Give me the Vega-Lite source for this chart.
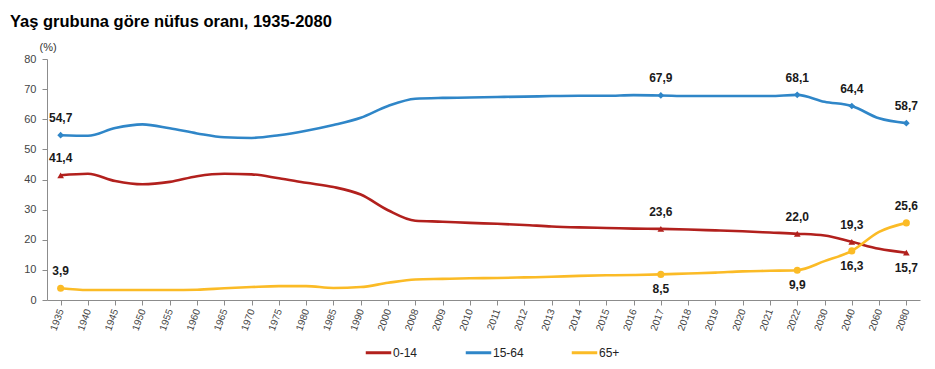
{
  "$schema": "https://vega.github.io/schema/vega-lite/v6.json",
  "autosize": {"type": "none"},
  "width": 873,
  "height": 241,
  "padding": {"left": 47, "top": 59, "right": 15, "bottom": 69},
  "background": "white",
  "title": {
    "text": "Yaş grubuna göre nüfus oranı, 1935-2080",
    "anchor": "start",
    "frame": "group",
    "dx": -37,
    "offset": 11,
    "fontSize": 16.5,
    "fontWeight": "bold",
    "color": "#000000",
    "font": "Liberation Sans"
  },
  "config": {
    "font": "Liberation Sans",
    "locale": {"number": {"decimal": ",", "thousands": ".", "grouping": [3], "currency": ["", " TL"]}},
    "view": {"stroke": null}
  },
  "data": {
    "values": [
      {"year": "1935", "group": "0-14", "value": 41.4},
      {"year": "1940", "group": "0-14", "value": 41.9},
      {"year": "1945", "group": "0-14", "value": 39.5},
      {"year": "1950", "group": "0-14", "value": 38.4},
      {"year": "1955", "group": "0-14", "value": 39.2},
      {"year": "1960", "group": "0-14", "value": 41.1},
      {"year": "1965", "group": "0-14", "value": 41.9},
      {"year": "1970", "group": "0-14", "value": 41.7},
      {"year": "1975", "group": "0-14", "value": 40.4},
      {"year": "1980", "group": "0-14", "value": 38.9},
      {"year": "1985", "group": "0-14", "value": 37.5},
      {"year": "1990", "group": "0-14", "value": 35.0},
      {"year": "2000", "group": "0-14", "value": 29.8},
      {"year": "2008", "group": "0-14", "value": 26.3},
      {"year": "2009", "group": "0-14", "value": 26.0},
      {"year": "2010", "group": "0-14", "value": 25.6},
      {"year": "2011", "group": "0-14", "value": 25.3},
      {"year": "2012", "group": "0-14", "value": 24.9},
      {"year": "2013", "group": "0-14", "value": 24.4},
      {"year": "2014", "group": "0-14", "value": 24.1},
      {"year": "2015", "group": "0-14", "value": 23.9},
      {"year": "2016", "group": "0-14", "value": 23.7},
      {"year": "2017", "group": "0-14", "value": 23.6},
      {"year": "2018", "group": "0-14", "value": 23.4},
      {"year": "2019", "group": "0-14", "value": 23.1},
      {"year": "2020", "group": "0-14", "value": 22.8},
      {"year": "2021", "group": "0-14", "value": 22.4},
      {"year": "2022", "group": "0-14", "value": 22.0},
      {"year": "2030", "group": "0-14", "value": 21.4},
      {"year": "2040", "group": "0-14", "value": 19.3},
      {"year": "2060", "group": "0-14", "value": 17.0},
      {"year": "2080", "group": "0-14", "value": 15.7},
      {"year": "1935", "group": "15-64", "value": 54.7},
      {"year": "1940", "group": "15-64", "value": 54.5},
      {"year": "1945", "group": "15-64", "value": 57.1},
      {"year": "1950", "group": "15-64", "value": 58.3},
      {"year": "1955", "group": "15-64", "value": 57.0},
      {"year": "1960", "group": "15-64", "value": 55.3},
      {"year": "1965", "group": "15-64", "value": 54.0},
      {"year": "1970", "group": "15-64", "value": 53.8},
      {"year": "1975", "group": "15-64", "value": 54.7},
      {"year": "1980", "group": "15-64", "value": 56.2},
      {"year": "1985", "group": "15-64", "value": 58.1},
      {"year": "1990", "group": "15-64", "value": 60.5},
      {"year": "2000", "group": "15-64", "value": 64.4},
      {"year": "2008", "group": "15-64", "value": 66.8},
      {"year": "2009", "group": "15-64", "value": 67.1},
      {"year": "2010", "group": "15-64", "value": 67.2},
      {"year": "2011", "group": "15-64", "value": 67.4},
      {"year": "2012", "group": "15-64", "value": 67.5},
      {"year": "2013", "group": "15-64", "value": 67.7},
      {"year": "2014", "group": "15-64", "value": 67.8},
      {"year": "2015", "group": "15-64", "value": 67.8},
      {"year": "2016", "group": "15-64", "value": 68.0},
      {"year": "2017", "group": "15-64", "value": 67.9},
      {"year": "2018", "group": "15-64", "value": 67.7},
      {"year": "2019", "group": "15-64", "value": 67.7},
      {"year": "2020", "group": "15-64", "value": 67.7},
      {"year": "2021", "group": "15-64", "value": 67.7},
      {"year": "2022", "group": "15-64", "value": 68.1},
      {"year": "2030", "group": "15-64", "value": 65.8},
      {"year": "2040", "group": "15-64", "value": 64.4},
      {"year": "2060", "group": "15-64", "value": 60.3},
      {"year": "2080", "group": "15-64", "value": 58.7},
      {"year": "1935", "group": "65+", "value": 3.9},
      {"year": "1940", "group": "65+", "value": 3.3},
      {"year": "1945", "group": "65+", "value": 3.3},
      {"year": "1950", "group": "65+", "value": 3.3},
      {"year": "1955", "group": "65+", "value": 3.3},
      {"year": "1960", "group": "65+", "value": 3.4},
      {"year": "1965", "group": "65+", "value": 3.9},
      {"year": "1970", "group": "65+", "value": 4.3},
      {"year": "1975", "group": "65+", "value": 4.6},
      {"year": "1980", "group": "65+", "value": 4.6},
      {"year": "1985", "group": "65+", "value": 4.0},
      {"year": "1990", "group": "65+", "value": 4.3},
      {"year": "2000", "group": "65+", "value": 5.7},
      {"year": "2008", "group": "65+", "value": 6.8},
      {"year": "2009", "group": "65+", "value": 7.0},
      {"year": "2010", "group": "65+", "value": 7.2},
      {"year": "2011", "group": "65+", "value": 7.3},
      {"year": "2012", "group": "65+", "value": 7.5},
      {"year": "2013", "group": "65+", "value": 7.7},
      {"year": "2014", "group": "65+", "value": 8.0},
      {"year": "2015", "group": "65+", "value": 8.2},
      {"year": "2016", "group": "65+", "value": 8.3},
      {"year": "2017", "group": "65+", "value": 8.5},
      {"year": "2018", "group": "65+", "value": 8.8},
      {"year": "2019", "group": "65+", "value": 9.1},
      {"year": "2020", "group": "65+", "value": 9.5},
      {"year": "2021", "group": "65+", "value": 9.7},
      {"year": "2022", "group": "65+", "value": 9.9},
      {"year": "2030", "group": "65+", "value": 12.9},
      {"year": "2040", "group": "65+", "value": 16.3},
      {"year": "2060", "group": "65+", "value": 22.6},
      {"year": "2080", "group": "65+", "value": 25.6}
    ]
  },
  "encoding": {
    "x": {
      "field": "year",
      "type": "ordinal",
      "sort": null,
      "scale": {"paddingInner": 0, "paddingOuter": 0},
      "axis": {
        "title": null,
        "labelAngle": -70,
        "labelFontSize": 10,
        "labelColor": "#444444",
        "labelPadding": 4,
        "domainColor": "#8c8c8c",
        "tickColor": "#8c8c8c",
        "tickSize": 5
      }
    },
    "y": {
      "field": "value",
      "type": "quantitative",
      "scale": {"domain": [0, 80], "nice": false},
      "axis": {
        "title": "(%)",
        "titleAngle": 0,
        "titleAlign": "left",
        "titleBaseline": "bottom",
        "titleX": -8,
        "titleY": -7,
        "titleFontWeight": "normal",
        "titleFontSize": 11,
        "titleColor": "#333333",
        "values": [0, 10, 20, 30, 40, 50, 60, 70, 80],
        "labelFontSize": 11,
        "labelColor": "#444444",
        "labelPadding": 6,
        "domainColor": "#8c8c8c",
        "tickColor": "#8c8c8c",
        "tickSize": 5,
        "grid": false
      }
    }
  },
  "layer": [
    {
      "mark": {"type": "line", "strokeWidth": 2.6, "interpolate": "monotone"},
      "encoding": {
        "color": {
          "field": "group",
          "type": "nominal",
          "scale": {"domain": ["0-14", "15-64", "65+"], "range": ["#b2201d", "#2f86c8", "#fbbb26"]},
          "legend": {
            "title": null,
            "orient": "none",
            "legendX": 317,
            "legendY": 279,
            "direction": "horizontal",
            "symbolType": "stroke",
            "symbolSize": 650,
            "symbolStrokeWidth": 3,
            "labelFontSize": 12,
            "labelColor": "#222222",
            "labelOffset": 0,
            "columnPadding": 41
          }
        }
      }
    },
    {
      "transform": [
        {"filter": "datum.group == '0-14'"},
        {"filter": "indexof(['1935','2017','2022','2040','2080'], datum.year) >= 0"}
      ],
      "mark": {"type": "point", "filled": true, "size": 45, "opacity": 1, "shape": "triangle-up", "color": "#b2201d"}
    },
    {
      "transform": [
        {"filter": "datum.group == '15-64'"},
        {"filter": "indexof(['1935','2017','2022','2040','2080'], datum.year) >= 0"}
      ],
      "mark": {"type": "point", "filled": true, "size": 45, "opacity": 1, "shape": "diamond", "color": "#2f86c8"}
    },
    {
      "transform": [
        {"filter": "datum.group == '65+'"},
        {"filter": "indexof(['1935','2017','2022','2040','2080'], datum.year) >= 0"}
      ],
      "mark": {"type": "point", "filled": true, "size": 50, "opacity": 1, "shape": "circle", "color": "#fbbb26"}
    },
    {
      "transform": [
        {"filter": "indexof(['1935','2017','2022','2040','2080'], datum.year) >= 0"},
        {"filter": "!(datum.group == '0-14' && datum.year == '2080') && !(datum.group == '65+' && indexof(['2017','2022','2040'], datum.year) >= 0)"}
      ],
      "mark": {"type": "text", "dy": -10, "baseline": "bottom", "fontSize": 12, "fontWeight": "bold", "color": "#1a1a1a"},
      "encoding": {
        "text": {"field": "value", "type": "quantitative", "format": ".1f"}
      }
    },
    {
      "transform": [
        {"filter": "(datum.group == '0-14' && datum.year == '2080') || (datum.group == '65+' && indexof(['2017','2022','2040'], datum.year) >= 0)"}
      ],
      "mark": {"type": "text", "dy": 10, "baseline": "top", "fontSize": 12, "fontWeight": "bold", "color": "#1a1a1a"},
      "encoding": {
        "text": {"field": "value", "type": "quantitative", "format": ".1f"}
      }
    }
  ]
}
